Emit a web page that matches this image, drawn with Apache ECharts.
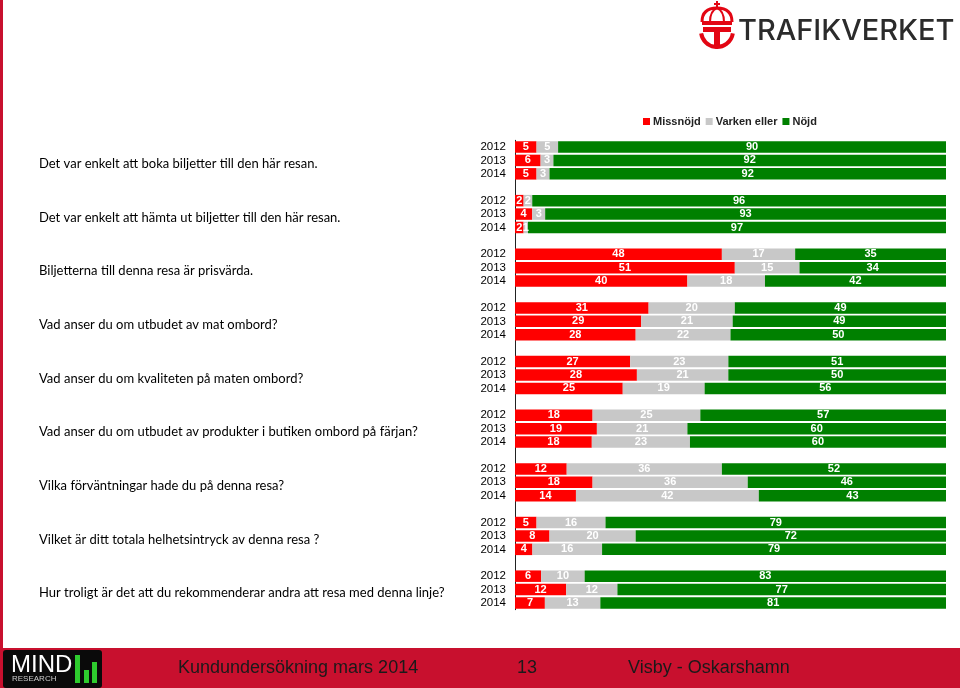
<!DOCTYPE html>
<html>
<head>
<meta charset="utf-8">
<script src="https://cdn.jsdelivr.net/npm/echarts@6/dist/echarts.min.js"></script>
<style>html,body{margin:0;padding:0;background:#fff}#c{width:960px;height:688px}</style>
</head>
<body>
<div id="c"></div>
<script>
const questions = [
  "Det var enkelt att boka biljetter till den här resan.",
  "Det var enkelt att hämta ut biljetter till den här resan.",
  "Biljetterna till denna resa är prisvärda.",
  "Vad anser du om utbudet av mat ombord?",
  "Vad anser du om kvaliteten på maten ombord?",
  "Vad anser du om utbudet av produkter i butiken ombord på färjan?",
  "Vilka förväntningar hade du på denna resa?",
  "Vilket är ditt totala helhetsintryck av denna resa ?",
  "Hur troligt är det att du rekommenderar andra att resa med denna linje?"
];
const years = ["2012", "2013", "2014"];
const seriesNames = ["Missnöjd", "Varken eller", "Nöjd"];
// per question: 2012, 2013, 2014
const missnojd = [5,6,5, 2,4,2, 48,51,40, 31,29,28, 27,28,25, 18,19,18, 12,18,14, 5,8,4, 6,12,7];
const varken   = [5,3,3, 2,3,1, 17,15,18, 20,21,22, 23,21,19, 25,21,23, 36,36,42, 16,20,16, 10,12,13];
const nojd     = [90,92,92, 96,93,97, 35,34,42, 49,49,50, 51,50,56, 57,60,60, 52,46,43, 79,72,79, 83,77,81];
const colors = ["#FF0000", "#C8C8C8", "#008000"];

// build category slots: 3 years per question + blank separator
const cats = [], qLabel = [];
const slotIdx = [];
questions.forEach((q, qi) => {
  years.forEach((y, yi) => { cats.push(qi + "|" + y); qLabel.push(yi === 1 ? q : ""); slotIdx.push(qi * 3 + yi); });
  if (qi < questions.length - 1) { cats.push(qi + "|gap"); qLabel.push(""); slotIdx.push(-1); }
});
const raw = [missnojd, varken, nojd];
const series = raw.map((arr, si) => ({
  name: seriesNames[si],
  type: 'bar',
  stack: 'all',
  barWidth: 11.5,
  itemStyle: { color: colors[si] },
  label: {
    show: true, position: 'inside', color: '#fff', fontWeight: 'bold',
    fontSize: 11, fontFamily: 'Arial, Liberation Sans',
    formatter: p => p.data && p.data.raw != null ? String(p.data.raw) : ''
  },
  data: slotIdx.map(k => {
    if (k < 0) return null;
    const tot = missnojd[k] + varken[k] + nojd[k];
    return { value: arr[k] / tot * 100, raw: arr[k] };
  })
}));

const RED = '#E30613';
const chart = echarts.init(document.getElementById('c'));
chart.setOption({
  animation: false,
  textStyle: { fontFamily: 'Arial, Liberation Sans' },
  legend: {
    left: 638, top: 111, itemWidth: 7, itemHeight: 7, itemGap: 5, icon: 'rect',
    textStyle: { fontSize: 11, fontWeight: 'bold', color: '#222', padding: [0, 0, 0, -2] },
    data: seriesNames
  },
  grid: { left: 515, right: 14, top: 140.3, bottom: 78.3, containLabel: false },
  xAxis: { type: 'value', min: 0, max: 100, show: false },
  yAxis: [
    {
      type: 'category', inverse: true, data: cats,
      axisLine: { show: true, lineStyle: { color: '#222', width: 1 } },
      axisTick: { show: false },
      axisLabel: { interval: 0, margin: 9, fontSize: 11.5, color: '#000', formatter: v => { const y = v.split('|')[1]; return y === 'gap' ? '' : y; } }
    },
    {
      type: 'category', inverse: true, data: cats, position: 'left',
      axisLine: { show: false }, axisTick: { show: false },
      axisLabel: {
        interval: 0, margin: 476, align: 'left', verticalAlign: 'top', lineHeight: 7,
        fontSize: 13, color: '#000', fontFamily: 'Lato',
        formatter: (v, i) => qLabel[i]
      }
    }
  ],
  series: series,
  graphic: [
    { type: 'rect', shape: { x: 0, y: 0, width: 3, height: 648 }, style: { fill: '#C8102E' } },
    { type: 'rect', shape: { x: 0, y: 648, width: 960, height: 40 }, style: { fill: '#C8102E' } },
    { type: 'rect', shape: { x: 3, y: 650, width: 99, height: 38, r: 3 }, style: { fill: '#0a0a0a' } },
    { type: 'text', style: { x: 11, y: 653, text: 'MIND', fill: '#fff', font: '24px Arial' } },
    { type: 'text', style: { x: 12, y: 675, text: 'RESEARCH', fill: '#ccc', font: '8px Arial' } },
    { type: 'rect', shape: { x: 75, y: 655, width: 5, height: 28 }, style: { fill: '#2ecc2e' } },
    { type: 'rect', shape: { x: 84, y: 670, width: 5, height: 13 }, style: { fill: '#2ecc2e' } },
    { type: 'rect', shape: { x: 92, y: 662, width: 5, height: 21 }, style: { fill: '#2ecc2e' } },
    { type: 'text', style: { x: 178, y: 668, text: 'Kundundersökning mars 2014', fill: '#1a1a1a', font: '18px Arial', verticalAlign: 'middle' } },
    { type: 'text', style: { x: 517, y: 668, text: '13', fill: '#1a1a1a', font: '18px Arial', verticalAlign: 'middle' } },
    { type: 'text', style: { x: 628, y: 668, text: 'Visby - Oskarshamn', fill: '#1a1a1a', font: '18px Arial', verticalAlign: 'middle' } },
    // Trafikverket logo
    { type: 'text', style: { x: 738, y: 31, text: 'TRAFIKVERKET', fill: '#2b2b2b', font: '500 29px Inter', verticalAlign: 'middle' } },
    { type: 'rect', shape: { x: 716, y: 1, width: 2, height: 7 }, style: { fill: RED } },
    { type: 'rect', shape: { x: 714, y: 3, width: 6, height: 2 }, style: { fill: RED } },
    { type: 'bezierCurve', shape: { x1: 702, y1: 22, cpx1: 702, cpy1: 8, x2: 717, y2: 8 }, style: { stroke: RED, lineWidth: 3, fill: null } },
    { type: 'bezierCurve', shape: { x1: 717, y1: 8, cpx1: 732, cpy1: 8, x2: 732, y2: 22 }, style: { stroke: RED, lineWidth: 3, fill: null } },
    { type: 'bezierCurve', shape: { x1: 710, y1: 22, cpx1: 710, cpy1: 11, x2: 717, y2: 8 }, style: { stroke: RED, lineWidth: 2, fill: null } },
    { type: 'bezierCurve', shape: { x1: 717, y1: 8, cpx1: 724, cpy1: 11, x2: 724, y2: 22 }, style: { stroke: RED, lineWidth: 2, fill: null } },
    { type: 'rect', shape: { x: 702, y: 21, width: 30, height: 4 }, style: { fill: RED } },
    { type: 'rect', shape: { x: 703, y: 27, width: 28, height: 5 }, style: { fill: RED } },
    { type: 'rect', shape: { x: 714, y: 27, width: 6, height: 18 }, style: { fill: RED } },
    { type: 'arc', shape: { cx: 717, cy: 31, r: 16, startAngle: 0.15, endAngle: Math.PI - 0.15 }, style: { stroke: RED, lineWidth: 4, fill: null } }
  ]
});
</script>
</body>
</html>
